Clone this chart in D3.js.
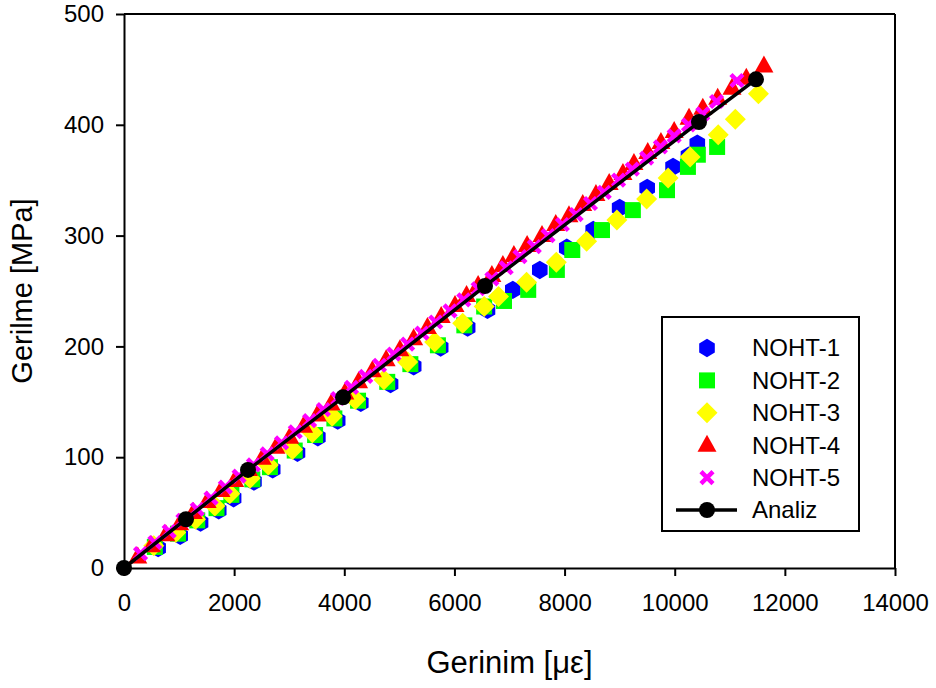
<!DOCTYPE html>
<html>
<head>
<meta charset="utf-8">
<script src="https://cdn.jsdelivr.net/npm/d3@7"></script>
<style>
  html, body { margin: 0; padding: 0; background: #fff; }
  svg text { font-family: "Liberation Sans", Arial, sans-serif; fill: #000; }
</style>
</head>
<body>
<svg id="chart" width="936" height="688"></svg>
<script>
// Strain (µε) and stress (MPa) readings for each specimen
const noht1X = [620, 1020, 1390, 1720, 1990, 2360, 2700, 3150, 3520, 3880, 4300, 4840, 5260, 5750, 6240, 6600, 7060, 7550, 8040, 8520, 9000, 9500, 9970, 10250, 10410];
const noht1Y = [18, 29, 41, 52, 63, 78, 89, 104, 118, 133, 149, 166, 182, 199, 217, 233, 251, 269, 289, 305, 325, 343, 362, 372, 383];

const noht2X = [560, 980, 1330, 1680, 1950, 2330, 2650, 3100, 3470, 3820, 4250, 4780, 5200, 5700, 6180, 6540, 6900, 7340, 7860, 8140, 8680, 9240, 9860, 10240, 10420, 10770];
const noht2Y = [19, 31, 43, 54, 66, 80, 91, 106, 120, 135, 151, 168, 184, 201, 219, 236, 241, 251, 269, 287, 305, 323, 341, 362, 373, 380];

const noht3X = [540, 940, 1300, 1650, 1920, 2290, 2620, 3060, 3420, 3780, 4200, 4720, 5150, 5640, 6150, 6540, 6800, 7310, 7850, 8400, 8950, 9490, 9880, 10280, 10790, 11100, 11520];
const noht3Y = [20, 32, 44, 56, 67, 81, 93, 107, 122, 137, 152, 170, 186, 204, 221, 236, 245, 258, 276, 295, 314, 333, 352, 371, 391, 405, 428];

const noht4X = [250, 500, 760, 1010, 1260, 1510, 1760, 2010, 2260, 2510, 2760, 3010, 3260, 3510, 3760, 4010, 4260, 4510, 4760, 5010, 5260, 5510, 5760, 6010, 6220, 6430, 6680, 6880, 7080, 7320, 7590, 7840, 8080, 8330, 8570, 8810, 9060, 9260, 9510, 9750, 9990, 10260, 10510, 10780, 11040, 11300, 11620];
const noht4Y = [10, 20, 30, 40, 50, 60, 70, 79, 89, 99, 109, 118, 128, 138, 148, 158, 168, 178, 188, 197, 207, 217, 227, 237, 246, 255, 264, 273, 282, 291, 300, 310, 318, 328, 337, 347, 356, 365, 375, 384, 394, 406, 415, 424, 433, 442, 453];

const noht5X = [300, 560, 820, 1070, 1330, 1580, 1840, 2090, 2350, 2600, 2860, 3110, 3370, 3620, 3880, 4130, 4390, 4640, 4900, 5150, 5410, 5660, 5920, 6170, 6430, 6680, 6940, 7190, 7450, 7700, 7960, 8210, 8470, 8720, 8980, 9230, 9490, 9740, 9990, 10250, 10510, 10760, 11130];
const noht5Y = [13, 23, 33, 43, 53, 63, 73, 83, 93, 103, 113, 123, 133, 143, 153, 163, 173, 183, 193, 202, 212, 222, 232, 242, 252, 261, 271, 281, 290, 300, 310, 319, 329, 339, 350, 360, 370, 380, 390, 400, 410, 421, 440];

const analizX = [0, 1126, 2252, 3977, 6555, 10441, 11476];
const analizY = [0, 44, 88.5, 154, 254.5, 402.5, 441];

const xTicks = [0, 2000, 4000, 6000, 8000, 10000, 12000, 14000];
const yTicks = [0, 100, 200, 300, 400, 500];
const seriesNames = ["NOHT-1", "NOHT-2", "NOHT-3", "NOHT-4", "NOHT-5", "Analiz"];

const zip = (xs, ys) => xs.map((x, i) => ({ x, y: ys[i] }));

const series = [
  { name: seriesNames[0], pts: zip(noht1X, noht1Y), shape: "hex", color: "#0000ff" },
  { name: seriesNames[1], pts: zip(noht2X, noht2Y), shape: "square", color: "#00ff00" },
  { name: seriesNames[2], pts: zip(noht3X, noht3Y), shape: "diamond", color: "#ffff00" },
  { name: seriesNames[3], pts: zip(noht4X, noht4Y), shape: "triangle", color: "#ff0000" },
  { name: seriesNames[4], pts: zip(noht5X, noht5Y), shape: "cross", color: "#ff00ff" }
];
const analiz = zip(analizX, analizY);

const svg = d3.select("#chart");
const x = d3.scaleLinear().domain([0, 14000]).range([124, 895]);
const y = d3.scaleLinear().domain([0, 500]).range([568, 14]);

// marker path generators, centred on the origin
function markerPath(shape) {
  switch (shape) {
    case "hex": {
      const r = 9.2;
      const pts = d3.range(6).map(k => {
        const a = Math.PI / 2 + k * Math.PI / 3;
        return [r * Math.cos(a) * 0.98, r * Math.sin(a)];
      });
      return "M" + pts.map(p => p.join(",")).join("L") + "Z";
    }
    case "square": return "M-8,-8H8V8H-8Z";
    case "diamond": return "M0,-10.5L10.5,0L0,10.5L-10.5,0Z";
    case "triangle": return "M0,-10.5L9.5,6.5L-9.5,6.5Z";
    case "cross": return "M-6,-6L6,6M6,-6L-6,6";
  }
}

function drawMarker(g, shape, color) {
  const p = g.append("path").attr("d", markerPath(shape));
  if (shape === "cross") {
    p.attr("fill", "none").attr("stroke", color).attr("stroke-width", 4.5);
  } else {
    p.attr("fill", color);
  }
}

// data markers
const plot = svg.append("g");
series.forEach(s => {
  s.pts.forEach(d => {
    const g = plot.append("g").attr("transform", `translate(${x(d.x)},${y(d.y)})`);
    drawMarker(g, s.shape, s.color);
  });
});

// analysis curve
plot.append("path")
  .datum(analiz)
  .attr("fill", "none")
  .attr("stroke", "#000")
  .attr("stroke-width", 3.5)
  .attr("d", d3.line().x(d => x(d.x)).y(d => y(d.y)));
plot.selectAll("circle.an")
  .data(analiz)
  .enter().append("circle")
  .attr("class", "an")
  .attr("cx", d => x(d.x))
  .attr("cy", d => y(d.y))
  .attr("r", 8)
  .attr("fill", "#000");

// axes
const xAxis = svg.append("g")
  .attr("transform", `translate(0,${y(0)})`)
  .call(d3.axisBottom(x).tickValues(xTicks).tickSize(8).tickSizeOuter(0).tickPadding(18).tickFormat(d3.format("d")));
const yAxis = svg.append("g")
  .attr("transform", `translate(${x(0)},0)`)
  .call(d3.axisLeft(y).tickValues(yTicks).tickSize(8).tickSizeOuter(0).tickPadding(12).tickFormat(d3.format("d")));
[xAxis, yAxis].forEach(a => {
  a.select(".domain").attr("stroke", "#000").attr("stroke-width", 2);
  a.selectAll(".tick line").attr("stroke", "#000").attr("stroke-width", 2);
  a.selectAll(".tick text").attr("font-size", 24).attr("fill", "#000")
    .attr("font-family", "'Liberation Sans', Arial, sans-serif");
});
xAxis.selectAll(".tick text").attr("dy", "0.71em");

// frame top and right
svg.append("line").attr("x1", x(0)).attr("x2", x(14000)).attr("y1", y(500)).attr("y2", y(500))
  .attr("stroke", "#000").attr("stroke-width", 2);
svg.append("line").attr("x1", x(14000)).attr("x2", x(14000)).attr("y1", y(500)).attr("y2", y(0))
  .attr("stroke", "#000").attr("stroke-width", 2);

// axis titles
svg.append("text")
  .attr("x", (x(0) + x(14000)) / 2)
  .attr("y", 673)
  .attr("text-anchor", "middle")
  .attr("font-size", 31)
  .text("Gerinim [με]");
svg.append("text")
  .attr("transform", `translate(32,${(y(0) + y(500)) / 2}) rotate(-90)`)
  .attr("text-anchor", "middle")
  .attr("font-size", 29)
  .text("Gerilme [MPa]");

// legend
const legend = svg.append("g");
legend.append("rect")
  .attr("x", 662).attr("y", 317).attr("width", 197).attr("height", 214)
  .attr("fill", "#fff").attr("stroke", "#000").attr("stroke-width", 2);
const rowY = i => 348 + i * 32.4;
series.forEach((s, i) => {
  const g = legend.append("g").attr("transform", `translate(707,${rowY(i)})`);
  drawMarker(g, s.shape, s.color);
  legend.append("text").attr("x", 752).attr("y", rowY(i)).attr("dy", "0.35em")
    .attr("font-size", 24).text(s.name);
});
legend.append("line").attr("x1", 676).attr("x2", 737).attr("y1", rowY(5)).attr("y2", rowY(5))
  .attr("stroke", "#000").attr("stroke-width", 3.5);
legend.append("circle").attr("cx", 707).attr("cy", rowY(5)).attr("r", 8).attr("fill", "#000");
legend.append("text").attr("x", 752).attr("y", rowY(5)).attr("dy", "0.35em")
  .attr("font-size", 24).text(seriesNames[5]);
</script>
</body>
</html>
